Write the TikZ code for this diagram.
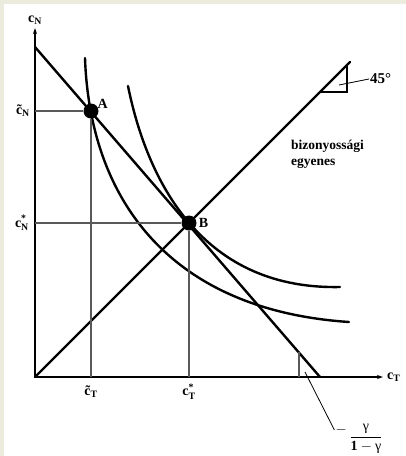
\documentclass[tikz,border=0pt]{standalone}
\usepackage{fontspec}
\usepackage{amsmath}
\setmainfont{Liberation Serif}
\usetikzlibrary{arrows.meta,calc,positioning}
\definecolor{framebg}{RGB}{236,236,222}
\newcommand{\cplain}[1]{c$_{\text{#1}}$}
\newcommand{\ctilde}[1]{\~{c}$_{\text{#1}}$}
\newcommand{\cstar}[1]{c$^{\text{*}}_{\text{#1}}$}
\tikzset{
  axis line/.style={-{Stealth[length=6pt,width=4pt]},line width=1.3pt},
  thick line/.style={line width=2.4pt,line cap=round},
  guide line/.style={line width=1.1pt,black!65},
  leader line/.style={line width=0.8pt},
  marker line/.style={line width=1.1pt},
  point dot/.style={circle,fill=black,inner sep=0pt,minimum size=15pt},
  bold label/.style={font=\fontsize{14}{16}\selectfont\bfseries,inner sep=1pt},
  note label/.style={font=\fontsize{13.5}{16}\selectfont\bfseries,inner sep=1pt},
}

\begin{document}
\begin{tikzpicture}[x=1pt,y=-1pt]
  \fill[framebg] (0,0) rectangle (406,456);
  \fill[white] (4,4) rectangle (406,456);
  \useasboundingbox (0,0) rectangle (406,456);

  % axes
  \coordinate (origin) at (35,377);
  \coordinate (ytip) at (35,28);
  \coordinate (xtip) at (383,377);
  \draw[axis line] (origin) -- (ytip);
  \draw[axis line] (origin) -- (xtip);
  \node[bold label,above=2pt of ytip] (ylabel) {\cplain{N}};
  \node[bold label,right=3pt of xtip] (xlabel) {\cplain{T}};

  % budget line and certainty line
  \coordinate (bstart) at (35,47);
  \coordinate (bend) at (320,377);
  \coordinate (ctop) at (350,62);
  \draw[thick line] (bstart) -- (bend);
  \draw[thick line] (origin) -- (ctop);

  % indifference curves
  \draw[thick line] (85,58) .. controls (90,200) and (170,310) .. (349,322);
  \draw[thick line] (128,86) .. controls (145,170) and (195,290) .. (340,287);

  % optimum points
  \node[point dot] (pA) at (91,111) {};
  \node[point dot] (pB) at (189,223) {};
  \node[bold label,above right=-4pt and 0pt of pA] (lA) {A};
  \node[bold label,right=1pt of pB] (lB) {B};

  \draw[guide line] (pA) -- (pA -| origin);
  \draw[guide line] (pA) -- (pA |- origin);
  \draw[guide line] (pB) -- (pB -| origin);
  \draw[guide line] (pB) -- (pB |- origin);

  \node[bold label,left=4pt of {pA -| origin}] (cnt) {\ctilde{N}};
  \node[bold label,left=5pt of {pB -| origin}] (cns) {\cstar{N}};
  \node[bold label,below=8pt of {pA |- origin}] (ctt) {\ctilde{T}};
  \node[bold label,below=6pt of {pB |- origin}] (cts) {\cstar{T}};

  % 45 degree marker
  \coordinate (mleft) at (320,92);
  \coordinate (mcorner) at (347,92);
  \coordinate (mtop) at (347,65);
  \draw[marker line] (mleft) -- (mcorner) -- (mtop);
  \node[bold label,font=\fontsize{15}{17}\selectfont\bfseries,anchor=west]
    (deg) at (369,79) {45°};
  \coordinate (dstart) at (339,85);
  \draw[leader line] (dstart) -- (deg.west);

  \node[note label,anchor=north west,align=left] (certainty) at (290,139)
    {bizonyossági\\egyenes};

  % slope marker
  \coordinate (sbot) at (299,377);
  \coordinate (stop) at (299,352);
  \draw[guide line] (stop) -- (sbot);
  \node[font=\fontsize{14}{16}\selectfont,inner sep=1pt] (slope) at (366,439)
    {$\dfrac{\text{γ}}{\textbf{1}-\text{γ}}$};
  \node[font=\fontsize{14}{16}\selectfont,inner sep=1pt,anchor=east]
    (sminus) at (348,430) {$-$};
  \coordinate (sstart) at (305,372);
  \draw[leader line] (sstart) -- (sminus.west);
\end{tikzpicture}
\end{document}
